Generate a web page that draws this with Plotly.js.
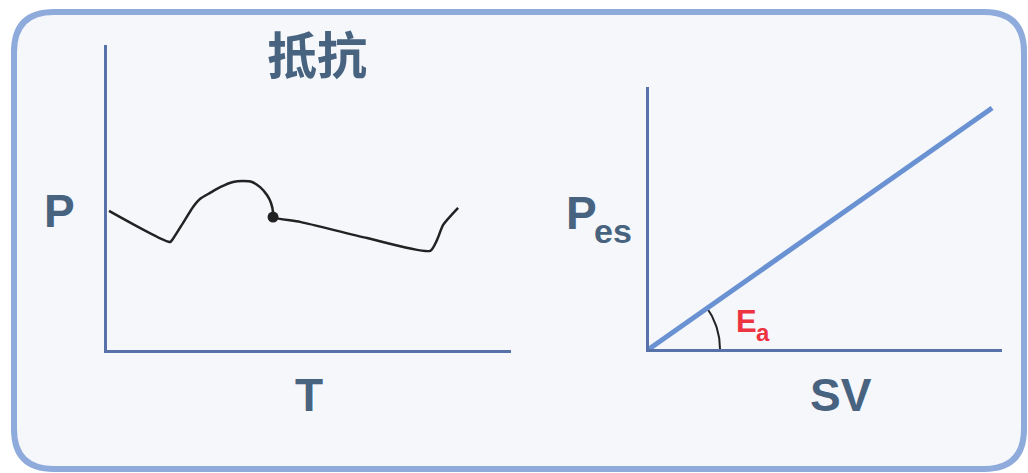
<!DOCTYPE html>
<html>
<head>
<meta charset="utf-8">
<script src="https://cdn.plot.ly/plotly-3.0.1.min.js"></script>
<style>html,body{margin:0;padding:0;background:#ffffff;}#chart{width:1028px;height:473px;}</style>
</head>
<body>
<div id="chart"></div>
<script>
// ---- Data ----
// Left panel: arterial pressure waveform P over time T (arbitrary units 0-100)
var waveT = [0.5, 15.6, 16.3, 18.8, 21.3, 23.0, 25.5, 28.0, 31.2, 33.7, 35.9, 37.9, 39.6, 40.6, 41.1, 41.1, 47.8, 64.4, 80.0, 81.7, 83.2, 86.9];
var waveP = [45.6, 35.4, 36.4, 41.6, 46.9, 49.5, 51.5, 53.4, 55.1, 55.4, 55.1, 53.4, 50.8, 48.2, 45.2, 43.6, 42.0, 36.7, 32.5, 36.1, 41.0, 46.6];
var dicroticT = [41.1];
var dicroticP = [43.6];
// Right panel: effective arterial elastance line Pes vs SV
var eaSV = [0, 97.2];
var eaPes = [0, 92.0];
// Labels
var titleText = "抵抗";
var leftX = "T", leftY = "P";
var rightX = "SV", rightYmain = "P", rightYsub = "es";
var eaMain = "E", eaSub = "a";

// ---- Layout helpers ----
var W = 1028, H = 473;
function px(x){ return x / W; }
function py(y){ return 1 - y / H; }
var axisColor = "#5672a8";
var textColor = "#47637f";
var latin = "Liberation Sans, Arial, sans-serif";

// Angle arc derived from the Ea line (decoration)
var rightW = 1002 - 649, rightH = 349 - 87;
var theta = Math.atan2(eaPes[1] / 100 * rightH, eaSV[1] / 100 * rightW);
var arcR = 71, arcX = [], arcY = [];
for (var i = 0; i <= 30; i++) {
  var a = theta * i / 30;
  arcX.push(arcR * Math.cos(a) / rightW * 100);
  arcY.push(arcR * Math.sin(a) / rightH * 100);
}

var traces = [
  {x: waveT, y: waveP, xaxis: "x", yaxis: "y", mode: "lines", line: {color: "#222222", width: 2.5, shape: "spline", smoothing: 0.6}, hoverinfo: "skip"},
  {x: dicroticT, y: dicroticP, xaxis: "x", yaxis: "y", mode: "markers", marker: {color: "#222222", size: 11}, hoverinfo: "skip"},
  {x: arcX, y: arcY, xaxis: "x2", yaxis: "y2", mode: "lines", line: {color: "#222222", width: 2}, hoverinfo: "skip"},
  {x: eaSV, y: eaPes, xaxis: "x2", yaxis: "y2", mode: "lines", line: {color: "#6a91d2", width: 5}, hoverinfo: "skip"}
];

function ax(domain, extra){
  var o = {domain: domain, range: [0, 100], showline: true, linecolor: axisColor, linewidth: 3,
    showgrid: false, zeroline: false, showticklabels: false, ticks: "", fixedrange: true};
  for (var k in extra) o[k] = extra[k];
  return o;
}

var boxPath = (function(){
  var x0 = px(14), x1 = px(1024), y0 = py(12), y1 = py(469);
  var rx = 40 / W, ry = 40 / H;
  return "M" + (x0 + rx) + "," + y0 + " L" + (x1 - rx) + "," + y0 + " Q" + x1 + "," + y0 + " " + x1 + "," + (y0 - ry) +
    " L" + x1 + "," + (y1 + ry) + " Q" + x1 + "," + y1 + " " + (x1 - rx) + "," + y1 +
    " L" + (x0 + rx) + "," + y1 + " Q" + x0 + "," + y1 + " " + x0 + "," + (y1 + ry) +
    " L" + x0 + "," + (y0 - ry) + " Q" + x0 + "," + y0 + " " + (x0 + rx) + "," + y0 + " Z";
})();

function ann(text, x, y, size, color, family){
  return {text: "<b>" + text + "</b>", x: px(x), y: py(y), xref: "paper", yref: "paper",
    xanchor: "center", yanchor: "middle", showarrow: false,
    font: {family: family || latin, size: size, color: color || textColor}};
}

var layout = {
  width: W, height: H,
  margin: {l: 0, r: 0, t: 0, b: 0, pad: 0},
  paper_bgcolor: "#ffffff", plot_bgcolor: "rgba(0,0,0,0)",
  showlegend: false,
  xaxis: ax([px(107), px(511)], {anchor: "y"}),
  yaxis: ax([py(350), py(45)], {anchor: "x"}),
  xaxis2: ax([px(649), px(1002)], {anchor: "y2"}),
  yaxis2: ax([py(349), py(87)], {anchor: "x2"}),
  shapes: [{type: "path", xref: "paper", yref: "paper", path: boxPath, layer: "below",
    fillcolor: "#f5f7fb", line: {color: "#8eabdc", width: 6}}],
  annotations: [
    ann(titleText, 317, 52, 50, textColor, "Noto Sans CJK SC, sans-serif"),
    ann(leftY, 59, 211, 46),
    ann(leftX, 309, 395, 46),
    ann(rightYmain, 581, 213, 46),
    ann(rightYsub, 613, 231, 34),
    ann(rightX, 841, 395, 46),
    ann(eaMain, 746, 321, 31, "#ee3340"),
    ann(eaSub, 763, 332, 24, "#ee3340")
  ]
};

Plotly.newPlot("chart", traces, layout, {displayModeBar: false, staticPlot: true});
</script>
</body>
</html>
